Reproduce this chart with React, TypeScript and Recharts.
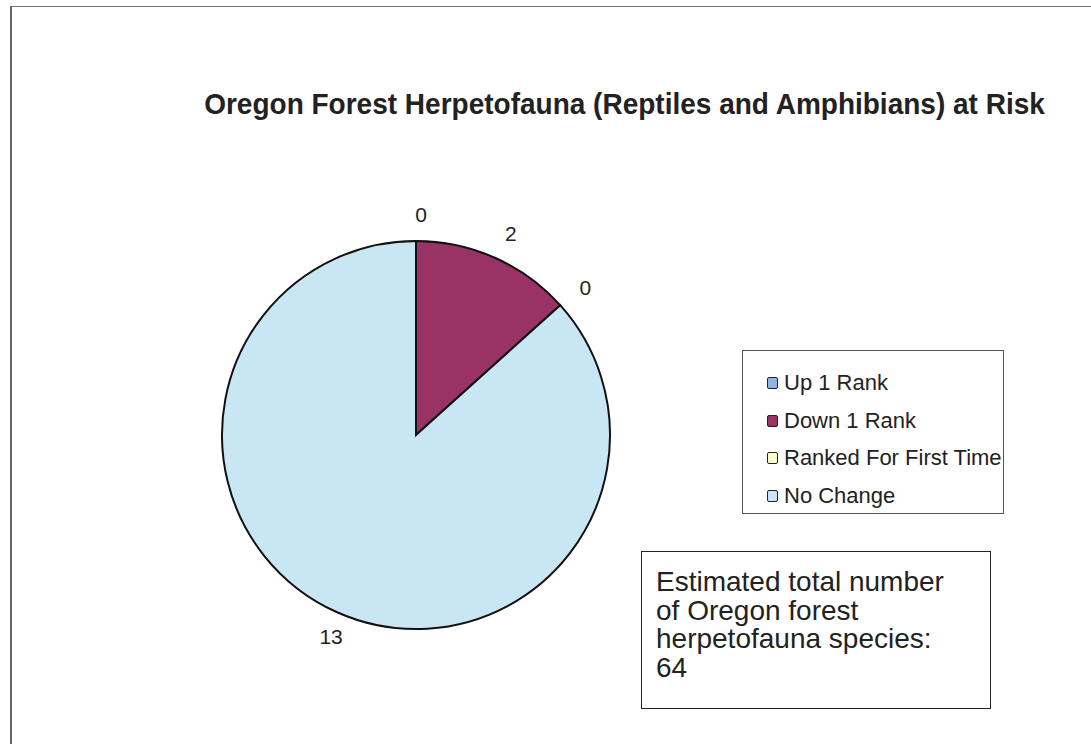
import { PieChart, Pie, Cell, Legend } from 'recharts';

const categories = ['Up 1 Rank', 'Down 1 Rank', 'Ranked For First Time', 'No Change'];
const counts = [0, 2, 0, 13];
const colors = ['#8fb6e3', '#993366', '#ffffcc', '#c9e6f5'];
const noteLines = ['Estimated total number', 'of Oregon forest', 'herpetofauna species:', '64'];

const data = categories.map((name, i) => ({ name, value: counts[i] }));

const RADIAN = Math.PI / 180;
const FONT = 'Liberation Sans, Arial, sans-serif';

const renderLabel = (props: any) => {
	const { cx, cy, midAngle, outerRadius, value } = props;
	const r = outerRadius + 27;
	const x = cx + r * Math.cos(-midAngle * RADIAN) + 5;
	const y = cy + r * Math.sin(-midAngle * RADIAN);
	return (
		<text
			x={x}
			y={y}
			fill='#222'
			fontSize={21}
			fontFamily={FONT}
			textAnchor='middle'
			dominantBaseline='central'
		>
			{value}
		</text>
	);
};

const LegendBox = (props: any) => {
	const payload = [...(props.payload || [])].sort(
		(a: any, b: any) => categories.indexOf(a.value) - categories.indexOf(b.value)
	);
	return (
		<div
			style={{
				width: 262,
				height: 164,
				border: '1px solid #555',
				boxSizing: 'border-box',
				paddingTop: 13,
				paddingLeft: 24,
				fontFamily: FONT,
				fontSize: 22,
				color: '#222',
				whiteSpace: 'nowrap'
			}}
		>
			{payload.map((entry: any, i: number) => (
				<div key={i} style={{ display: 'flex', alignItems: 'center', height: 37.7 }}>
					<span
						style={{
							display: 'inline-block',
							width: 9,
							height: 10,
							border: '1.5px solid #222',
							borderRadius: 2,
							background: entry.color,
							marginRight: 6
						}}
					/>
					<span>{entry.value}</span>
				</div>
			))}
		</div>
	);
};

const App = () => {
	return (
		<div
			style={{
				position: 'absolute',
				left: 0,
				top: 0,
				width: 1091,
				height: 744,
				background: '#fff',
				overflow: 'hidden'
			}}
		>
			<div
				style={{
					position: 'absolute',
					left: 10,
					top: 6,
					width: 1200,
					height: 900,
					borderLeft: '2px solid #666',
					borderTop: '1.5px solid #777'
				}}
			/>
			<div
				style={{
					position: 'absolute',
					left: 0,
					top: 88,
					width: 1249,
					textAlign: 'center',
					fontFamily: FONT,
					fontWeight: 'bold',
					fontSize: 28,
					color: '#222',
					transform: 'scaleY(1.08)'
				}}
			>
				Oregon Forest Herpetofauna (Reptiles and Amphibians) at Risk
			</div>
			<div style={{ position: 'absolute', left: 0, top: 0 }}>
				<PieChart width={1091} height={744} margin={{ top: 0, right: 0, bottom: 0, left: 0 }}>
					<Pie
						data={data}
						dataKey='value'
						nameKey='name'
						cx={416}
						cy={435}
						outerRadius={194}
						startAngle={90}
						endAngle={-270}
						stroke='#111'
						strokeWidth={2}
						label={renderLabel}
						labelLine={false}
						isAnimationActive={false}
					>
						{data.map((d, i) => (
							<Cell key={d.name} fill={colors[i]} />
						))}
					</Pie>
					<Legend
						layout='vertical'
						content={<LegendBox />}
						wrapperStyle={{ position: 'absolute', left: 742, top: 350, width: 262 }}
					/>
				</PieChart>
			</div>
			<div
				style={{
					position: 'absolute',
					left: 641,
					top: 551,
					width: 350,
					height: 158,
					border: '1.5px solid #222',
					boxSizing: 'border-box',
					padding: '16px 0 0 14px',
					fontFamily: FONT,
					fontSize: 28,
					lineHeight: '28.5px',
					color: '#222'
				}}
			>
				{noteLines.map((l) => (
					<div key={l}>{l}</div>
				))}
			</div>
		</div>
	);
};

export default App;
